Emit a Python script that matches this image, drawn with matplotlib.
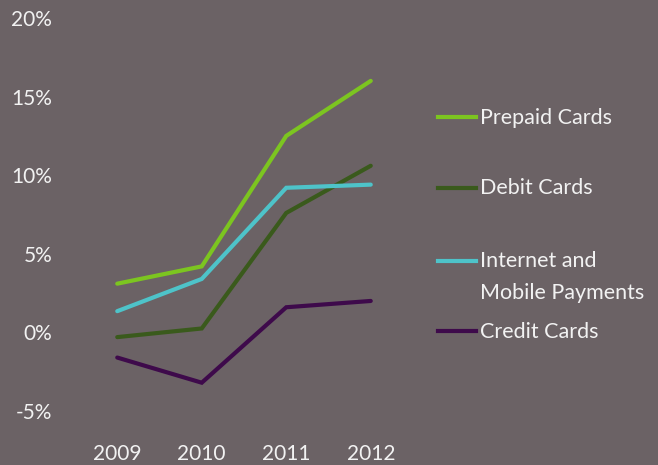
import numpy as np
import matplotlib.pyplot as plt
from matplotlib.lines import Line2D

# Annual growth by payment type, in percent
years = ['2009', '2010', '2011', '2012']
prepaid = [3.1, 4.2, 12.5, 16.0]
debit = [-0.3, 0.25, 7.6, 10.6]
internet_mobile = [1.35, 3.4, 9.2, 9.4]
credit = [-1.6, -3.2, 1.6, 2.0]

series_names = ['Prepaid Cards', 'Debit Cards',
                'Internet and\nMobile Payments', 'Credit Cards']
series_vals = [prepaid, debit, internet_mobile, credit]
series_colors = ['#7cc520', '#3a5a1c', '#4ec3c9', '#3e0a4b']

bg = '#6b6265'
txt = '#f2f2f2'
plt.rcParams['font.family'] = ['Lato', 'DejaVu Sans']

fig = plt.figure(figsize=(6.58, 4.65), dpi=100, facecolor=bg)
ax = fig.add_axes([75 / 658, 1 - 411 / 465, 338 / 658, 393 / 465])
ax.set_facecolor(bg)

x = np.arange(len(years))
for vals, col in zip(series_vals, series_colors):
    ax.plot(x, vals, color=col, lw=3, solid_capstyle='round',
            solid_joinstyle='miter')

ax.set_xlim(-0.5, len(years) - 0.5)
ax.set_ylim(-5, 20)
ax.set_xticks(x)
ax.set_xticklabels(years)
ax.set_yticks(np.arange(-5, 21, 5))
ax.set_yticklabels(['{}%'.format(v) for v in range(-5, 21, 5)])
ax.tick_params(axis='y', length=0, pad=16.5, labelsize=15, labelcolor=txt)
ax.tick_params(axis='x', length=0, pad=24, labelsize=15, labelcolor=txt)
for s in ax.spines.values():
    s.set_visible(False)

# Legend drawn by hand so the handle sits on the first text line
leg_y = [117, 188, 261, 331]
line_step = 31  # px between baselines of a wrapped label
for name, col, yp in zip(series_names, series_colors, leg_y):
    yf = 1 - yp / 465
    fig.add_artist(Line2D([438 / 658, 476 / 658], [yf, yf], color=col, lw=3,
                          transform=fig.transFigure))
    # baseline alignment uses the last line, so push wrapped labels down
    extra = name.count('\n') * line_step
    fig.text(480 / 658, 1 - (yp + 6.5 + extra) / 465, name, color=txt,
             fontsize=15.5, va='baseline', ha='left', linespacing=1.7)

fig.savefig('out.png', dpi=100, facecolor=bg)
